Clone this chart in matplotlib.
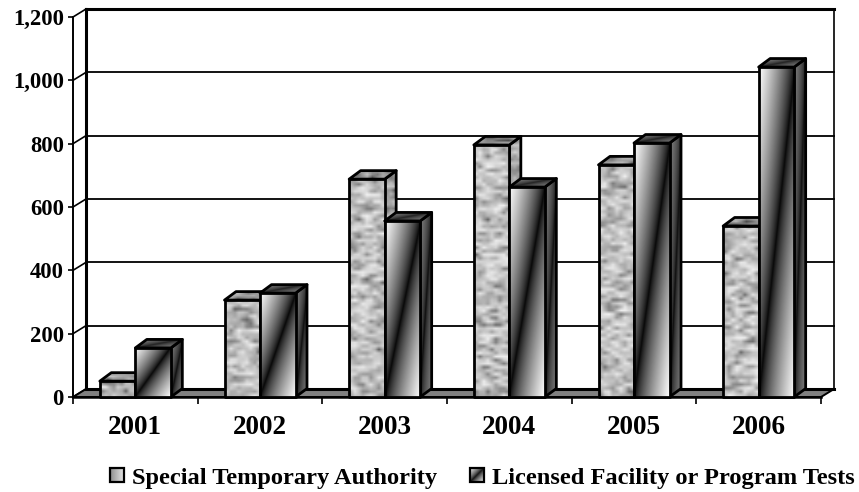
import numpy as np
import matplotlib
matplotlib.use('Agg')
import matplotlib.pyplot as plt
from matplotlib.patches import Polygon

years = ['2001', '2002', '2003', '2004', '2005', '2006']
special_temp = [50, 306, 688, 796, 733, 540]
licensed_tests = [155, 328, 556, 663, 802, 1042]
y_ticks = [0, 200, 400, 600, 800, 1000, 1200]
legend_labels = ['Special Temporary Authority', 'Licensed Facility or Program Tests']

plt.rcParams['font.family'] = 'Liberation Serif'
plt.rcParams['font.weight'] = 'bold'

W, H = 859, 492
X0, X1, Y0, Y1 = 73, 821, 397, 17  # front plane in pixels

fig = plt.figure(figsize=(W / 100, H / 100), dpi=100)
ax = fig.add_axes([X0 / W, 1 - Y0 / H, (X1 - X0) / W, (Y0 - Y1) / H])
n = len(years)
for s in ax.spines.values():
    s.set_visible(False)
ax.patch.set_visible(False)

# depth of the 3d box, px converted to data units
px_x = n / (X1 - X0)
px_y = 1200 / (Y0 - Y1)
wall_dx, wall_dy = 13 * px_x, 8 * px_y
bar_dx, bar_dy = 11.5 * px_x, 8.5 * px_y
bar_w = 35.5 * px_x


def hash_grid(h, w, seed):
    j, i = np.meshgrid(np.arange(w), np.arange(h))
    v = np.sin(i * 12.9898 + j * 78.233 + seed) * 43758.5453
    return v - np.floor(v)


def stone(h, w, seed):
    # blotchy grey texture, from a hash so it stays the same every run
    g = hash_grid(h, w, seed)
    g = (g + np.roll(g, 1, axis=1)) / 2
    g = (g - g.min()) / (g.max() - g.min() + 1e-9)
    return 0.38 + 0.56 * g ** 0.6


def diagonal(u_n=120, v_n=200, low=0.0, high=1.0, power=0.75):
    # grey sweep that goes dark on the line from lower left to upper right
    u, v = np.meshgrid(np.linspace(0, 1, u_n), np.linspace(1, 0, v_n))
    return low + (high - low) * np.abs(u - v) ** power


def face(corners, img, z, lw=2.0):
    xs = [c[0] for c in corners]
    ys = [c[1] for c in corners]
    im = ax.imshow(img, cmap='gray', vmin=0, vmax=1, aspect='auto', zorder=z,
                   extent=[min(xs), max(xs), min(ys), max(ys)],
                   interpolation='bilinear')
    poly = Polygon(corners, closed=True, fc='none', ec='black', lw=lw, zorder=z,
                   joinstyle='round', clip_on=False)
    ax.add_patch(poly)
    im.set_clip_path(poly)


def bar(x, val, kind, z, seed):
    x2 = x + bar_w
    if kind == 'stone':
        rows = max(3, int(val / px_y / 3.5))
        front = stone(rows, 9, seed)
        side = stone(rows, 3, seed + 3) * 0.88
        top = stone(3, 9, seed + 5) * 0.8
    else:
        front = diagonal(low=0.02, high=1.0)
        side = diagonal(low=0.0, high=0.5, power=0.5)
        top = diagonal(low=0.1, high=0.55, power=0.6)
    face([(x2, 0), (x2 + bar_dx, bar_dy), (x2 + bar_dx, val + bar_dy), (x2, val)],
         side, z)
    face([(x, val), (x2, val), (x2 + bar_dx, val + bar_dy), (x + bar_dx, val + bar_dy)],
         top, z + 0.1)
    face([(x, 0), (x2, 0), (x2, val), (x, val)], front, z + 0.2)


# back wall, floor, left wall
for v in y_ticks[1:-1]:
    ax.plot([wall_dx, n + wall_dx], [v + wall_dy] * 2, color='black', lw=1.3,
            zorder=1, clip_on=False)
ax.plot([wall_dx, n + wall_dx], [1200 + wall_dy] * 2, color='black', lw=2.2,
        zorder=1, clip_on=False)
ax.plot([wall_dx, wall_dx], [wall_dy, 1200 + wall_dy], color='black', lw=2.2,
        zorder=1, clip_on=False)
ax.plot([n + wall_dx] * 2, [wall_dy, 1200 + wall_dy], color='black', lw=1.2,
        zorder=1, clip_on=False)
for v in y_ticks:
    ax.plot([0, wall_dx], [v, v + wall_dy], color='black', lw=1.2, zorder=1,
            clip_on=False)
ax.plot([0, 0], [0, 1200], color='black', lw=1.4, zorder=1, clip_on=False)
ax.add_patch(Polygon([(0, 0), (n, 0), (n + wall_dx, wall_dy), (wall_dx, wall_dy)],
                     closed=True, fc='#808080', ec='black', lw=1.4, zorder=2,
                     clip_on=False))
ax.plot([wall_dx, n + wall_dx], [wall_dy] * 2, color='black', lw=2.2, zorder=2,
        clip_on=False)

for i in range(n):
    z = 3 + i
    bar(i + 0.5 - bar_w, special_temp[i], 'stone', z, i * 7.1)
    bar(i + 0.5, licensed_tests[i], 'grad', z + 0.4, i)

ax.plot([0, n], [0, 0], color='black', lw=1.8, zorder=2.5, clip_on=False)

ax.set_xlim(0, n)
ax.set_ylim(0, 1200)
ax.set_xticks(range(n + 1))
ax.set_xticklabels([])
ax.set_xticks(np.arange(n) + 0.5, labels=years, minor=True)
ax.tick_params(axis='x', which='major', length=5, width=1.2, color='black')
ax.tick_params(axis='x', which='minor', length=0, pad=13, labelsize=19.5)
ax.set_yticks(y_ticks, labels=['{:,}'.format(v) for v in y_ticks])
ax.tick_params(axis='y', length=3.6, width=1.2, pad=3, labelsize=16.3)

# legend, swatches use the same kind of fill as the bars
lax = fig.add_axes([0, 0, 1, 1], zorder=20)
lax.axis('off')
swatch_imgs = [np.linspace(0.55, 0.9, 40)[None, :], diagonal(low=0.05, high=0.95)]
swatch_x = [109.5, 469.5]
text_x = [132, 492]
for img, sx, tx, label in zip(swatch_imgs, swatch_x, text_x, legend_labels):
    lax.imshow(img, cmap='gray', vmin=0, vmax=1, aspect='auto',
               extent=[sx, sx + 14, 482, 468], zorder=1, interpolation='bilinear')
    lax.add_patch(Polygon([(sx, 468), (sx + 14, 468), (sx + 14, 482), (sx, 482)],
                          closed=True, fc='none', ec='black', lw=1.6, zorder=2))
    lax.text(tx, 484, label, fontsize=17.6, ha='left', va='baseline')
lax.set_xlim(0, W)
lax.set_ylim(H, 0)

fig.savefig('out.png', dpi=100)
